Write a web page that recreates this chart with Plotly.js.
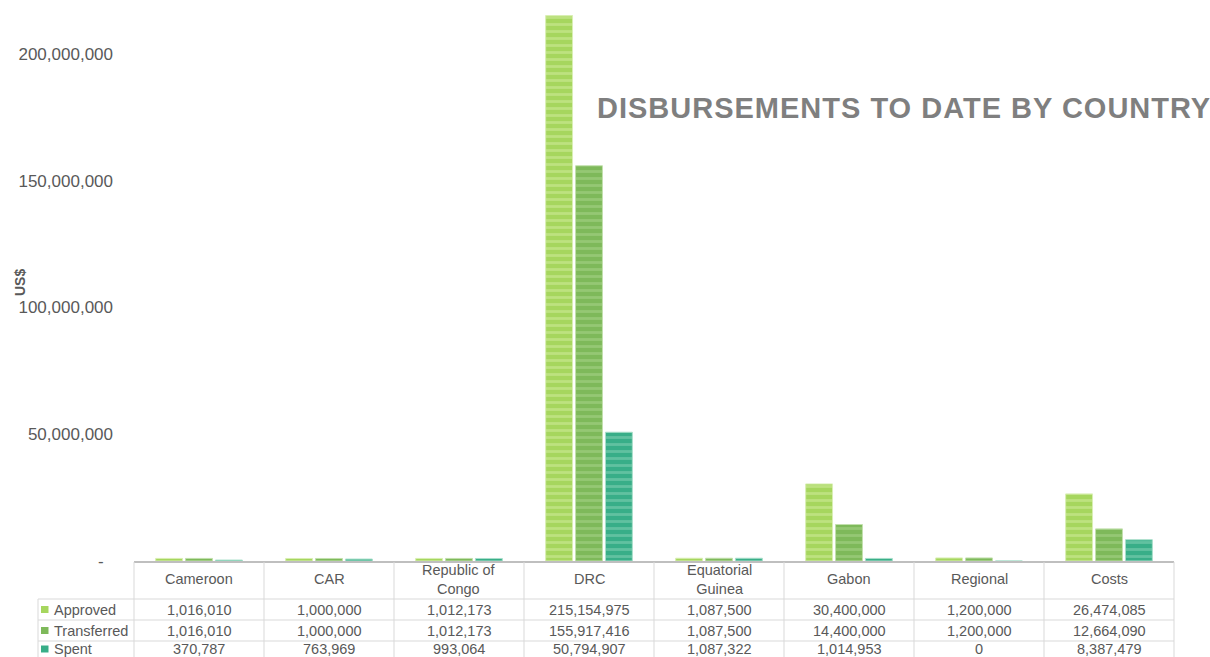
<!DOCTYPE html>
<html>
<head>
<meta charset="utf-8">
<script src="https://cdn.plot.ly/plotly-3.0.1.min.js"></script>
<style>
html,body{margin:0;padding:0;background:#fff;}
#chart{width:1210px;height:657px;}
</style>
</head>
<body>
<div id="chart"></div>
<script>
// ---- data ----
const categories = ["Cameroon","CAR","Republic of Congo","DRC","Equatorial Guinea","Gabon","Regional","Costs"];
const headerLabels = ["Cameroon","CAR","Republic of<br>Congo","DRC","Equatorial<br>Guinea","Gabon","Regional","Costs"];
const seriesNames = ["Approved","Transferred","Spent"];
const approved    = [1016010,1000000,1012173,215154975,1087500,30400000,1200000,26474085];
const transferred = [1016010,1000000,1012173,155917416,1087500,14400000,1200000,12664090];
const spent       = [370787,763969,993064,50794907,1087322,1014953,0,8387479];
const yTickVals = [0,50000000,100000000,150000000,200000000];
const yTickText = ["-\u00a0\u00a0","50,000,000","100,000,000","150,000,000","200,000,000"];
const titleText = "DISBURSEMENTS TO DATE BY COUNTRY";
const yTitle = "US$";

// ---- styling ----
const W = 1210, H = 657;
const px = x => x / W;
const py = y => 1 - y / H;
const fontFam = "Liberation Sans, Arial, sans-serif";
const textCol = "#595959";
const gridCol = "#d9d9d9";
const colors   = ["#a6d65e","#7eb95a","#38ae88"];
const stripes  = ["#d3ed9f","#acd58e","#8ad4b8"];
const borders  = ["#d9efb4","#c2e0ad","#a9dfca"];

const seriesValues = [approved, transferred, spent];

const traces = seriesValues.map((vals, i) => ({
  type: "bar",
  name: seriesNames[i],
  x: categories,
  y: vals,
  marker: {
    color: colors[i],
    line: {color: borders[i], width: 1},
    pattern: {shape: "-", fgcolor: stripes[i], bgcolor: colors[i], size: 7, solidity: 0.4, fillmode: "overlay"}
  },
  hoverinfo: "x+y+name"
}));

// table geometry (pixels)
const colEdges = [134,264,394,524,654,784,914,1044,1174];
const tableLeft = 38;
const rowLines = [599,620,641];
const headerY = 579;
const rowCenters = [609.5,630.5,649];

const shapes = [];
rowLines.forEach(y => shapes.push({type:"line", xref:"paper", yref:"paper", x0:px(tableLeft), x1:px(1174), y0:py(y), y1:py(y), line:{color:gridCol, width:1}}));
colEdges.forEach(x => shapes.push({type:"line", xref:"paper", yref:"paper", x0:px(x), x1:px(x), y0:py(562), y1:py(H+5), line:{color:gridCol, width:1}}));
shapes.push({type:"line", xref:"paper", yref:"paper", x0:px(tableLeft), x1:px(tableLeft), y0:py(599), y1:py(H+5), line:{color:gridCol, width:1}});
seriesNames.forEach((n, i) => shapes.push({type:"rect", xref:"paper", yref:"paper",
  x0:px(41), x1:px(48.5), y0:py(rowCenters[i]-3.5), y1:py(rowCenters[i]+3.5),
  fillcolor: colors[i], line:{width:0}}));

const annotations = [];
categories.forEach((c, j) => annotations.push({xref:"x", yref:"paper", x:c, y:py(headerY),
  text: headerLabels[j], showarrow:false, xanchor:"center", yanchor:"middle",
  font:{family:fontFam, size:14.5, color:textCol}}));
seriesValues.forEach((vals, i) => {
  vals.forEach((v, j) => annotations.push({xref:"x", yref:"paper", x:categories[j], y:py(rowCenters[i]),
    text: v.toLocaleString("en-US"), showarrow:false, xanchor:"center", yanchor:"middle",
    font:{family:fontFam, size:14.5, color:textCol}}));
  annotations.push({xref:"paper", yref:"paper", x:px(52), y:py(rowCenters[i]), text: seriesNames[i],
    showarrow:false, xanchor:"left", yanchor:"middle", font:{family:fontFam, size:14.5, color:textCol}});
});
annotations.push({xref:"paper", yref:"paper", x:px(20), y:py(283), text:"<b>"+yTitle+"</b>", textangle:-90,
  showarrow:false, xanchor:"center", yanchor:"middle", font:{family:fontFam, size:14, color:textCol}});

const layout = {
  width: W, height: H,
  margin: {l:0, r:0, t:0, b:0, pad:0},
  paper_bgcolor: "#fff", plot_bgcolor: "#fff",
  showlegend: false,
  barmode: "group",
  bargap: 0.31,
  bargroupgap: 0.1,
  title: {text: "<b>"+titleText+"</b>", xref:"paper", yref:"paper", x: px(597), y: py(108),
    xanchor:"left", yanchor:"middle", font:{family:fontFam, size:29, color:"#7f7f7f"}},
  xaxis: {domain:[px(134), px(1174)], type:"category", showticklabels:false, ticks:"",
    showgrid:false, zeroline:false, showline:true, linecolor:"#bfbfbf", linewidth:2, fixedrange:true},
  yaxis: {domain:[py(561), 1], range:[0, 221300000], tickvals:yTickVals, ticktext:yTickText,
    showgrid:false, zeroline:false, showline:false, ticks:"", ticklabelstandoff:20,
    tickfont:{family:fontFam, size:17, color:textCol}, fixedrange:true},
  shapes: shapes,
  annotations: annotations,
  font: {family: fontFam, color: textCol}
};

Plotly.newPlot("chart", traces, layout, {displayModeBar:false, staticPlot:true}).then(() => {
  const t = document.querySelector(".gtitle");
  if (t) t.style.letterSpacing = "1px";
});
</script>
</body>
</html>
